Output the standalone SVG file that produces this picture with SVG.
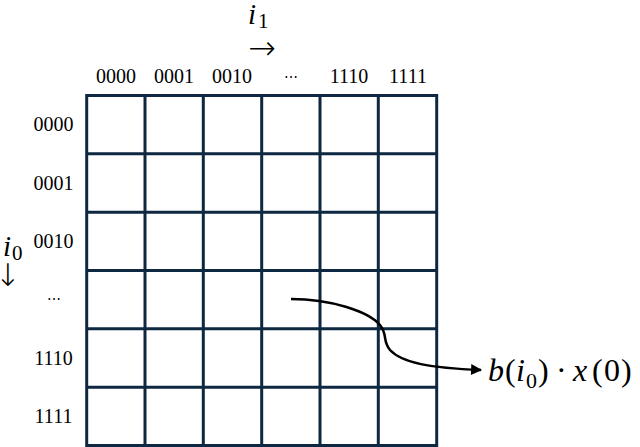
<svg xmlns="http://www.w3.org/2000/svg" width="640" height="447" viewBox="0 0 640 447">
<style>
.grid{stroke:#0e2841;stroke-width:3;fill:none}
.lbl{font-family:"Liberation Serif","Times New Roman",serif;font-size:20px;fill:#000;text-anchor:middle}
.math{font-family:"Liberation Serif","Times New Roman",serif;fill:#000}
.it{font-style:italic}
.arr{font-family:"DejaVu Sans",sans-serif;font-weight:200;fill:#000;text-anchor:middle}
.dots{font-family:"DejaVu Serif",serif;font-size:14px;fill:#000;text-anchor:middle}
.conn{stroke:#000;stroke-width:2.5;fill:none}
</style>
<defs>
<marker id="ah" viewBox="0 0 10 10" refX="9" refY="5" markerWidth="5" markerHeight="4.4" orient="auto" markerUnits="strokeWidth">
<path d="M0,0 L10,5 L0,10 Z" fill="#000"/>
</marker>
</defs>
<rect width="640" height="447" fill="#fff"/>
<g id="grid">
<rect class="grid" x="86.7" y="95.5" width="350" height="350"/>
<path class="grid" d="M145,95.5V445.5M203.3,95.5V445.5M261.7,95.5V445.5M320,95.5V445.5M378.3,95.5V445.5M86.7,153.8H436.7M86.7,212.2H436.7M86.7,270.5H436.7M86.7,328.8H436.7M86.7,387.2H436.7"/>
</g>
<g id="col-labels">
<text class="lbl" x="116" y="83">0000</text>
<text class="lbl" x="174" y="83">0001</text>
<text class="lbl" x="232" y="83">0010</text>
<text class="dots" x="290.5" y="82">⋯</text>
<text class="lbl" x="349" y="83">1110</text>
<text class="lbl" x="408" y="83">1111</text>
</g>
<g id="row-labels">
<text class="lbl" x="53.5" y="131.4">0000</text>
<text class="lbl" x="53.5" y="189.7">0001</text>
<text class="lbl" x="53.5" y="248">0010</text>
<text class="dots" x="53.5" y="304">⋯</text>
<text class="lbl" x="53.5" y="364.7">1110</text>
<text class="lbl" x="53.5" y="423">1111</text>
</g>
<g id="axis-i1">
<text class="math it" x="248" y="24" font-size="29">i</text>
<text class="math" x="258" y="28" font-size="21">1</text>
<text class="arr" x="262" y="59" font-size="33">→</text>
</g>
<g id="axis-i0">
<text class="math it" x="3" y="256" font-size="29">i</text>
<text class="math" x="12" y="260" font-size="21">0</text>
<text class="arr" x="8" y="286" font-size="31">↓</text>
</g>
<g id="connectors">
<path class="conn" marker-end="url(#ah)" d="M291,299 C330,299 368,311 380,325 C388,335 382,340 390,350 C402,363 430,368 481,370"/>
</g>
<g id="result">
<text class="math" font-size="32" y="381"><tspan class="it" x="488">b</tspan><tspan x="505">(</tspan><tspan class="it" x="516">i</tspan><tspan x="526" y="388" font-size="22">0</tspan><tspan x="538" y="381">)</tspan><tspan x="556">·</tspan><tspan class="it" x="573">x</tspan><tspan x="592">(</tspan><tspan x="604">0</tspan><tspan x="621">)</tspan></text>
</g>
</svg>
